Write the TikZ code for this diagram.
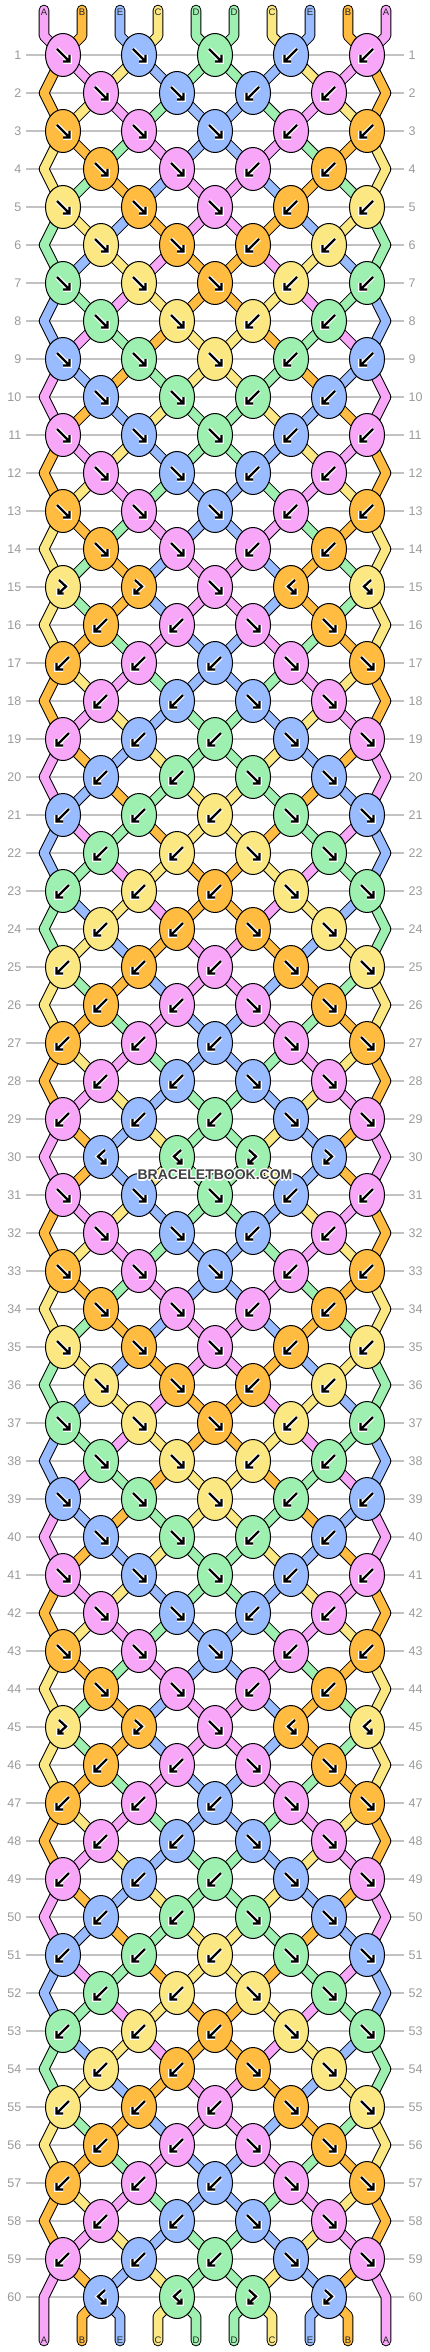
\documentclass[tikz,border=0pt]{standalone}
\usepackage{fontspec}
\setmainfont{Liberation Sans}
\usetikzlibrary{shapes.geometric}

\definecolor{colA}{HTML}{F7A6F8}
\definecolor{colB}{HTML}{FFBC40}
\definecolor{colC}{HTML}{FBE883}
\definecolor{colD}{HTML}{9DF0AF}
\definecolor{colE}{HTML}{99BBFF}
\definecolor{rowgray}{HTML}{9A9A9A}
\definecolor{linegray}{HTML}{C2C2C2}

% #1 row, #2 knot, #3 left strand position, #4 type (1 f, 2 b, 3 fb, 4 bf)
\newcommand\TieKnot[4]{%
	\pgfmathtruncatemacro\RightPos{#3+1}%
	\edef\LeftStr{\csname s#3\endcsname}%
	\edef\RightStr{\csname s\RightPos\endcsname}%
	\ifodd#4 \expandafter\xdef\csname kc#1-#2\endcsname{\LeftStr}%
	\else \expandafter\xdef\csname kc#1-#2\endcsname{\RightStr}\fi
	\expandafter\xdef\csname kt#1-#2\endcsname{#4}%
	\ifnum#4<3 \expandafter\xdef\csname s#3\endcsname{\RightStr}%
		\expandafter\xdef\csname s\RightPos\endcsname{\LeftStr}\fi
}

\tikzset{
	band/.style={draw=black,line width=1pt,double distance=8.6pt,line join=round},
	tailband/.style={band,line cap=round},
	knot/.style={ellipse,draw=black,line width=1pt,fill=#1,minimum width=35pt,minimum height=43pt,inner sep=0pt},
	glyph/.style={black,line width=2.3pt,preaction={draw=white,line width=4.6pt}},
	rowlabel/.style={text=rowgray,font=\fontsize{12.5}{14}\selectfont,inner sep=0pt},
	endlabel/.style={text=black!85,font=\fontsize{9.5}{11}\selectfont,inner sep=0pt},
	sitename/.style={font=\bfseries\fontsize{14}{16}\selectfont,inner sep=0pt}
}

\begin{document}
\begin{tikzpicture}[x=1pt,y=-1pt]
			\def\TopY{55}
			\def\RowStep{38}
			\def\KnotStep{76}
			\def\StrandStep{38}
			\useasboundingbox (0,0) rectangle (430,2352);
			% rows, labels and knot places
			\foreach \r in {1,...,60}{
				\pgfmathsetmacro\RowY{\TopY+\RowStep*(\r-1)}
				\draw[linegray,line width=1.3pt] (26,\RowY) -- (404,\RowY);
				\node[rowlabel,anchor=east] (left-\r) at (21.5,\RowY) {\r};
				\node[rowlabel,anchor=west] (right-\r) at (408.5,\RowY) {\r};
				\ifodd\r \def\KnotCount{5}\def\KnotX{63}\else \def\KnotCount{4}\def\KnotX{101}\fi
				\foreach \k in {1,...,\KnotCount}
					\coordinate (k-\r-\k) at ({\KnotX+\KnotStep*(\k-1)},\RowY);
				\ifodd\r\relax\else
					\coordinate (bend-l-\r) at (44,\RowY);
					\coordinate (bend-r-\r) at (386,\RowY);
				\fi
			}
			% loose ends on top
			\foreach \p/\s in {1/A,2/B,3/E,4/C,5/D,6/D,7/C,8/E,9/B,10/A}{
				\expandafter\xdef\csname s\p\endcsname{\s}
				\pgfmathtruncatemacro\Pair{(\p+1)/2}
				\pgfmathsetmacro\StrandX{44+\StrandStep*(\p-1)}
				\coordinate (top-\p) at (\StrandX,10);
				\draw[tailband,double=col\s] (top-\p) -- ++(0,26) -- (k-1-\Pair);
				\node[endlabel] (toplabel-\p) at (\StrandX,12.7) {\s};
			}
			% tie the rows
			\foreach \r in {1,...,60}{
				\pgfmathtruncatemacro\Turn{mod(\r-1,30)+1}
				\def\LeftType{1}\def\MidType{1}
				\ifnum\Turn=15 \def\LeftType{3}\fi
				\ifnum\Turn>15 \def\LeftType{2}\def\MidType{2}\fi
				\ifnum\Turn=30 \def\LeftType{4}\fi
				\pgfmathtruncatemacro\RightType{\LeftType<3 ? 3-\LeftType : 7-\LeftType}
				\ifodd\r
					\TieKnot{\r}{1}{1}{\LeftType}\TieKnot{\r}{2}{3}{\LeftType}\TieKnot{\r}{3}{5}{\MidType}
					\TieKnot{\r}{4}{7}{\RightType}\TieKnot{\r}{5}{9}{\RightType}
				\else
					\TieKnot{\r}{1}{2}{\LeftType}\TieKnot{\r}{2}{4}{\LeftType}
					\TieKnot{\r}{3}{6}{\RightType}\TieKnot{\r}{4}{8}{\RightType}
				\fi
				\pgfmathtruncatemacro\NextR{\r+1}
				\pgfmathtruncatemacro\PrevR{\r-1}
				\ifnum\r<60
					\foreach \p in {2,...,9}{
						\pgfmathtruncatemacro\OddK{(\p+1)/2}
						\pgfmathtruncatemacro\EvenK{\p/2}
						\edef\Col{\csname s\p\endcsname}
						\ifodd\r
							\draw[band,double=col\Col] (k-\r-\OddK) -- (k-\NextR-\EvenK);
						\else
							\draw[band,double=col\Col] (k-\r-\EvenK) -- (k-\NextR-\OddK);
						\fi
					}
					\ifodd\r\relax\else
						\edef\Col{\csname s1\endcsname}
						\draw[band,double=col\Col] (k-\PrevR-1) -- (bend-l-\r) -- (k-\NextR-1);
						\edef\Col{\csname s10\endcsname}
						\draw[band,double=col\Col] (k-\PrevR-5) -- (bend-r-\r) -- (k-\NextR-5);
					\fi
				\fi
			}
			% loose ends at the bottom
			\foreach \p in {1,...,10}{
				\edef\Col{\csname s\p\endcsname}
				\pgfmathsetmacro\StrandX{44+\StrandStep*(\p-1)}
				\coordinate (bottom-\p) at (\StrandX,2341);
				\ifnum\p=1
					\draw[tailband,double=col\Col] (k-59-1) -- (bend-l-60) -- (bottom-\p);
				\else\ifnum\p=10
					\draw[tailband,double=col\Col] (k-59-5) -- (bend-r-60) -- (bottom-\p);
				\else
					\pgfmathtruncatemacro\Pair{\p/2}
					\draw[tailband,double=col\Col] (k-60-\Pair) -- (\StrandX,2316) -- (bottom-\p);
				\fi\fi
				\node[endlabel] (bottomlabel-\p) at (\StrandX,2340.5) {\Col};
			}
			% knots
			\foreach \r in {1,...,60}{
				\ifodd\r \def\KnotCount{5}\else \def\KnotCount{4}\fi
				\foreach \k in {1,...,\KnotCount}{
					\edef\Col{\csname kc\r-\k\endcsname}
					\edef\Type{\csname kt\r-\k\endcsname}
					\node[knot=col\Col] (knot-\r-\k) at (k-\r-\k) {};
					\begin{scope}[shift={(k-\r-\k)}]
						\ifnum\Type=1 \draw[glyph] (-6,-6) -- (6.5,6.5) (0,6.5) -- (6.5,6.5) -- (6.5,0);\fi
						\ifnum\Type=2 \draw[glyph] (6,-6) -- (-6.5,6.5) (0,6.5) -- (-6.5,6.5) -- (-6.5,0);\fi
						\ifnum\Type=3 \draw[glyph] (-4,-7) -- (3,-0.5) -- (-4.5,6.5) (0.5,6.5) -- (-4.5,6.5) -- (-4.5,1.5);\fi
						\ifnum\Type=4 \draw[glyph] (4,-7) -- (-3,-0.5) -- (4.5,6.5) (-0.5,6.5) -- (4.5,6.5) -- (4.5,1.5);\fi
					\end{scope}
				}
			}
			\foreach \dx/\dy [count=\h] in {-1.2/0,1.2/0,0/-1.2,0/1.2,-0.9/-0.9,0.9/-0.9,-0.9/0.9,0.9/0.9}
				\node[sitename,text=white] (halo-\h) at ({215+\dx},{1175+\dy}) {BRACELETBOOK.COM};
			\node[sitename,text=black!75] (sitename) at (215,1175) {BRACELETBOOK.COM};
\end{tikzpicture}
\end{document}
